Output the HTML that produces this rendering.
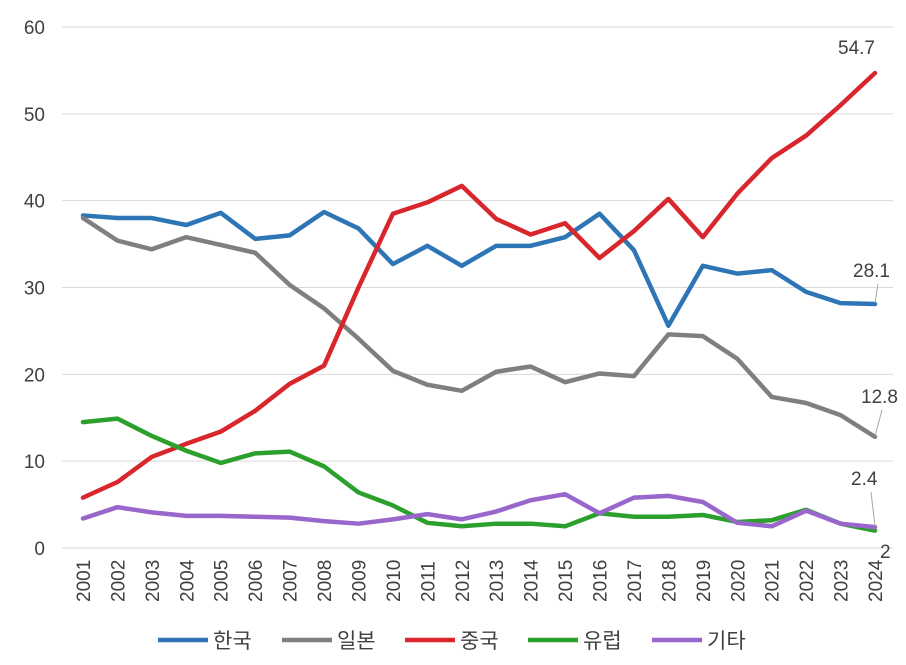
<!DOCTYPE html>
<html><head><meta charset="utf-8"><style>
body{margin:0;background:#fff}
svg text{font-family:"Liberation Sans","Noto Sans CJK KR",sans-serif;fill:#404040}
</style></head><body>
<svg id="c" width="906" height="660" xmlns="http://www.w3.org/2000/svg"></svg>
<script>
const s=document.getElementById('c');
const X=i=>83+i*792/23, Y=v=>548-v*8.683;
let h='';
for(let v=0;v<=60;v+=10){const y=Y(v);h+=`<line x1="62" x2="893" y1="${y}" y2="${y}" stroke="#d9d9d9" stroke-width="1"/>`;
h+=`<text x="45" y="${y+7}" font-size="19" text-anchor="end">${v}</text>`;}
for(let i=0;i<24;i++){h+=`<text transform="translate(${X(i)+7},602) rotate(-90)" font-size="19">${2001+i}</text>`;}
const D=[
['#2e75b6',[38.3,38,38,37.2,38.6,35.6,36,38.7,36.8,32.7,34.8,32.5,34.8,34.8,35.8,38.5,34.3,25.6,32.5,31.6,32,29.5,28.2,28.1]],
['#7f7f7f',[38,35.4,34.4,35.8,34.9,34,30.3,27.6,24.1,20.4,18.8,18.1,20.3,20.9,19.1,20.1,19.8,24.6,24.4,21.8,17.4,16.7,15.3,12.8]],
['#d9262c',[5.8,7.6,10.5,12,13.4,15.8,18.9,21,30,38.5,39.8,41.7,37.9,36.1,37.4,33.4,36.5,40.2,35.8,40.8,44.9,47.5,51,54.7]],
['#2ca02c',[14.5,14.9,12.9,11.2,9.8,10.9,11.1,9.4,6.4,4.9,2.9,2.5,2.8,2.8,2.5,4.0,3.6,3.6,3.8,3.0,3.2,4.4,2.8,2.0]],
['#9966cc',[3.4,4.7,4.1,3.7,3.7,3.6,3.5,3.1,2.8,3.3,3.9,3.3,4.2,5.5,6.2,4.0,5.8,6.0,5.3,2.9,2.5,4.3,2.8,2.4]]];
D.forEach(([c,a])=>{h+=`<polyline fill="none" stroke="${c}" stroke-width="4.5" stroke-linejoin="round" stroke-linecap="round" points="${a.map((v,i)=>X(i)+','+Y(v)).join(' ')}"/>`;});
h+=`<text x="838" y="54" font-size="19">54.7</text>`;
h+=`<text x="853" y="277" font-size="19">28.1</text><line x1="878" y1="284" x2="875" y2="303" stroke="#a6a6a6"/>`;
h+=`<text x="861" y="403" font-size="19">12.8</text><line x1="882" y1="410" x2="875" y2="436" stroke="#a6a6a6"/>`;
h+=`<text x="851" y="485" font-size="19">2.4</text><line x1="871" y1="492" x2="875" y2="526" stroke="#a6a6a6"/>`;
h+=`<text x="880" y="558" font-size="19">2</text>`;
const L=[['한국',158],['일본',282],['중국',405],['유럽',528],['기타',652]];
L.forEach(([t,x],i)=>{h+=`<line x1="${x}" x2="${x+50}" y1="640" y2="640" stroke="${D[i][0]}" stroke-width="4.5"/><text x="${x+55}" y="648" font-size="21">${t}</text>`;});
s.innerHTML=h;
</script>
</body></html>
